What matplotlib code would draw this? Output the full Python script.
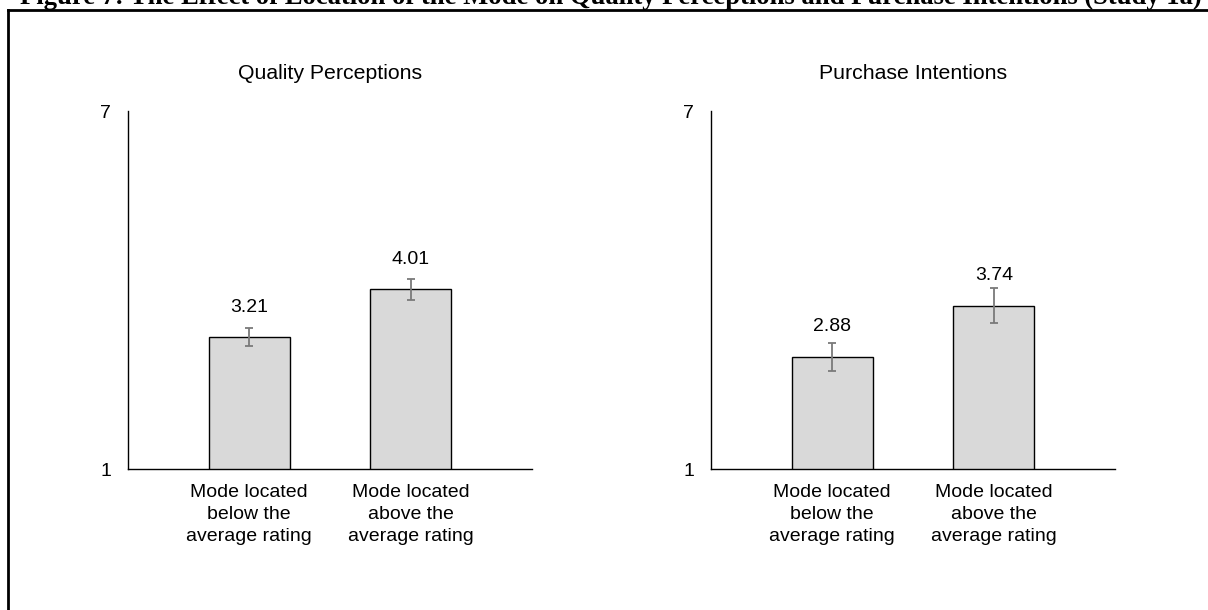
"""
Study 1a: effect of mode location on quality perceptions and purchase intentions
"""
import matplotlib.pyplot as plt
from matplotlib.lines import Line2D
import numpy as np

W, H, DPI = 1208, 610, 100

conditions = ['Mode located\nbelow the\naverage rating',
              'Mode located\nabove the\naverage rating']
panel_titles = ['Quality Perceptions', 'Purchase Intentions']
quality_means = [3.21, 4.01]
quality_err = [0.15, 0.18]
purchase_means = [2.88, 3.74]
purchase_err = [0.23, 0.30]

plt.rcParams['font.family'] = ['Liberation Sans', 'DejaVu Sans']

fig = plt.figure(figsize=(W / DPI, H / DPI), dpi=DPI)
fig.patch.set_facecolor('white')

# axes boxes in pixel units: left, right, top (y=7), bottom (y=1)
boxes = [(128, 532, 111, 469), (711, 1115, 111, 469)]
series = [(quality_means, quality_err), (purchase_means, purchase_err)]

for (x0, x1, yt, yb), title, (means, errs) in zip(boxes, panel_titles, series):
    ax = fig.add_axes([x0 / W, 1 - yb / H, (x1 - x0) / W, (yb - yt) / H])
    x = np.arange(len(conditions))
    ax.bar(x, means, width=0.5, bottom=0, color='#d9d9d9',
           edgecolor='black', linewidth=1.0, zorder=2)
    ax.errorbar(x, means, yerr=errs, fmt='none', ecolor='#7a7a7a',
                elinewidth=1.3, capsize=3, capthick=1.3, zorder=3)
    for xi, m in zip(x, means):
        ax.text(xi, m + 0.5, f'{m:.2f}', ha='center', va='center', fontsize=14)
    ax.set_xlim(-0.75, 1.75)
    ax.set_ylim(1, 7)
    ax.set_yticks([1, 7])
    ax.set_yticklabels(['1', '7'], fontsize=14)
    ax.set_xticks(x)
    ax.set_xticklabels(conditions, fontsize=14, linespacing=1.36)
    ax.tick_params(length=0)
    ax.tick_params(axis='x', pad=11)
    ax.tick_params(axis='y', pad=12)
    for s in ['top', 'right']:
        ax.spines[s].set_visible(False)
    for s in ['left', 'bottom']:
        ax.spines[s].set_color('black')
        ax.spines[s].set_linewidth(1.0)
    ax.set_title(title, fontsize=15.3, pad=23)

# frame around the figure
fig.add_artist(Line2D([8 / W, 8 / W], [0, 1 - 9.5 / H], transform=fig.transFigure,
                      color='black', linewidth=2))
fig.add_artist(Line2D([8 / W, 1.01], [1 - 9.5 / H, 1 - 9.5 / H], transform=fig.transFigure,
                      color='black', linewidth=2))

fig.text(20 / W, 1 - 4 / H,
         'Figure 7: The Effect of Location of the Mode on Quality Perceptions '
         'and Purchase Intentions (Study 1a)',
         fontsize=19.2, fontweight='bold', family=['Liberation Serif', 'DejaVu Serif'],
         ha='left', va='baseline')

fig.savefig('out.png', dpi=DPI, facecolor='white')
